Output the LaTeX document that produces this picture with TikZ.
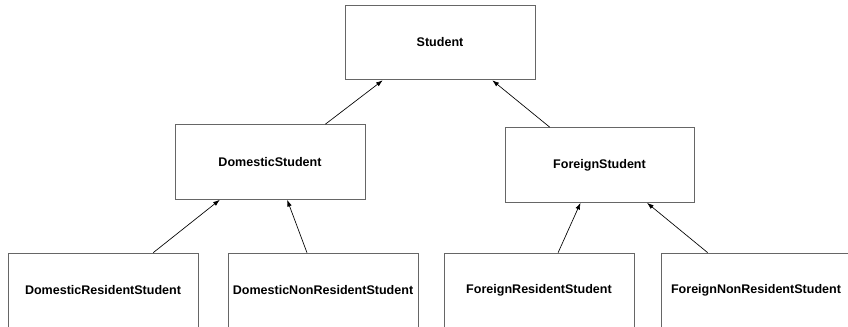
\documentclass[tikz,border=0pt]{standalone}
\usepackage{fontspec}
\setmainfont{Liberation Sans}
\usepackage{tikz}
\usetikzlibrary{shapes,arrows.meta,positioning,calc}
\tikzstyle{clase} = [draw=black!60, line width=0.75pt, rectangle, minimum width=142.5pt, minimum height=56pt, inner sep=0pt, font=\fontsize{9.4}{11}\selectfont\bfseries]
\tikzstyle{hereda} = [draw=black, line width=0.5pt, -{Latex[length=5pt,width=3.5pt]}]
\begin{document}
\begin{tikzpicture}[x=0.75pt, y=-0.75pt]
					\useasboundingbox (0,0) rectangle (848,327);
					\clip (0,0) rectangle (848,327);
					% clase base
					\node [clase] (student) at (440,42.5) {Student};
					% nivel intermedio
					\node [clase] (domestic) at (270,162) {DomesticStudent};
					\node [clase, minimum width=141.75pt] (foreign) at (599.5,165) {ForeignStudent};
					% nivel inferior
					\node [clase] (domres) at (103,290.5) {DomesticResidentStudent};
					\node [clase] (domnonres) at (323,290.5) {DomesticNonResidentStudent};
					\node [clase] (forres) at (539,290.5) {ForeignResidentStudent};
					\node [clase] (fornonres) at (756,290.5) {ForeignNonResidentStudent};
					% herencia
					\draw [hereda] ($(domestic.north west)!0.79!(domestic.north east)$) -- ($(student.south west)!0.2!(student.south east)$);
					\draw [hereda] ($(foreign.north west)!0.238!(foreign.north east)$) -- ($(student.south west)!0.774!(student.south east)$);
					\draw [hereda] ($(domres.north west)!0.763!(domres.north east)$) -- ($(domestic.south west)!0.237!(domestic.south east)$);
					\draw [hereda] ($(domnonres.north west)!0.416!(domnonres.north east)$) -- ($(domestic.south west)!0.59!(domestic.south east)$);
					\draw [hereda] ($(forres.north west)!0.6!(forres.north east)$) -- ($(foreign.south west)!0.4!(foreign.south east)$);
					\draw [hereda] ($(fornonres.north west)!0.247!(fornonres.north east)$) -- ($(foreign.south west)!0.75!(foreign.south east)$);
				\end{tikzpicture}
\end{document}
